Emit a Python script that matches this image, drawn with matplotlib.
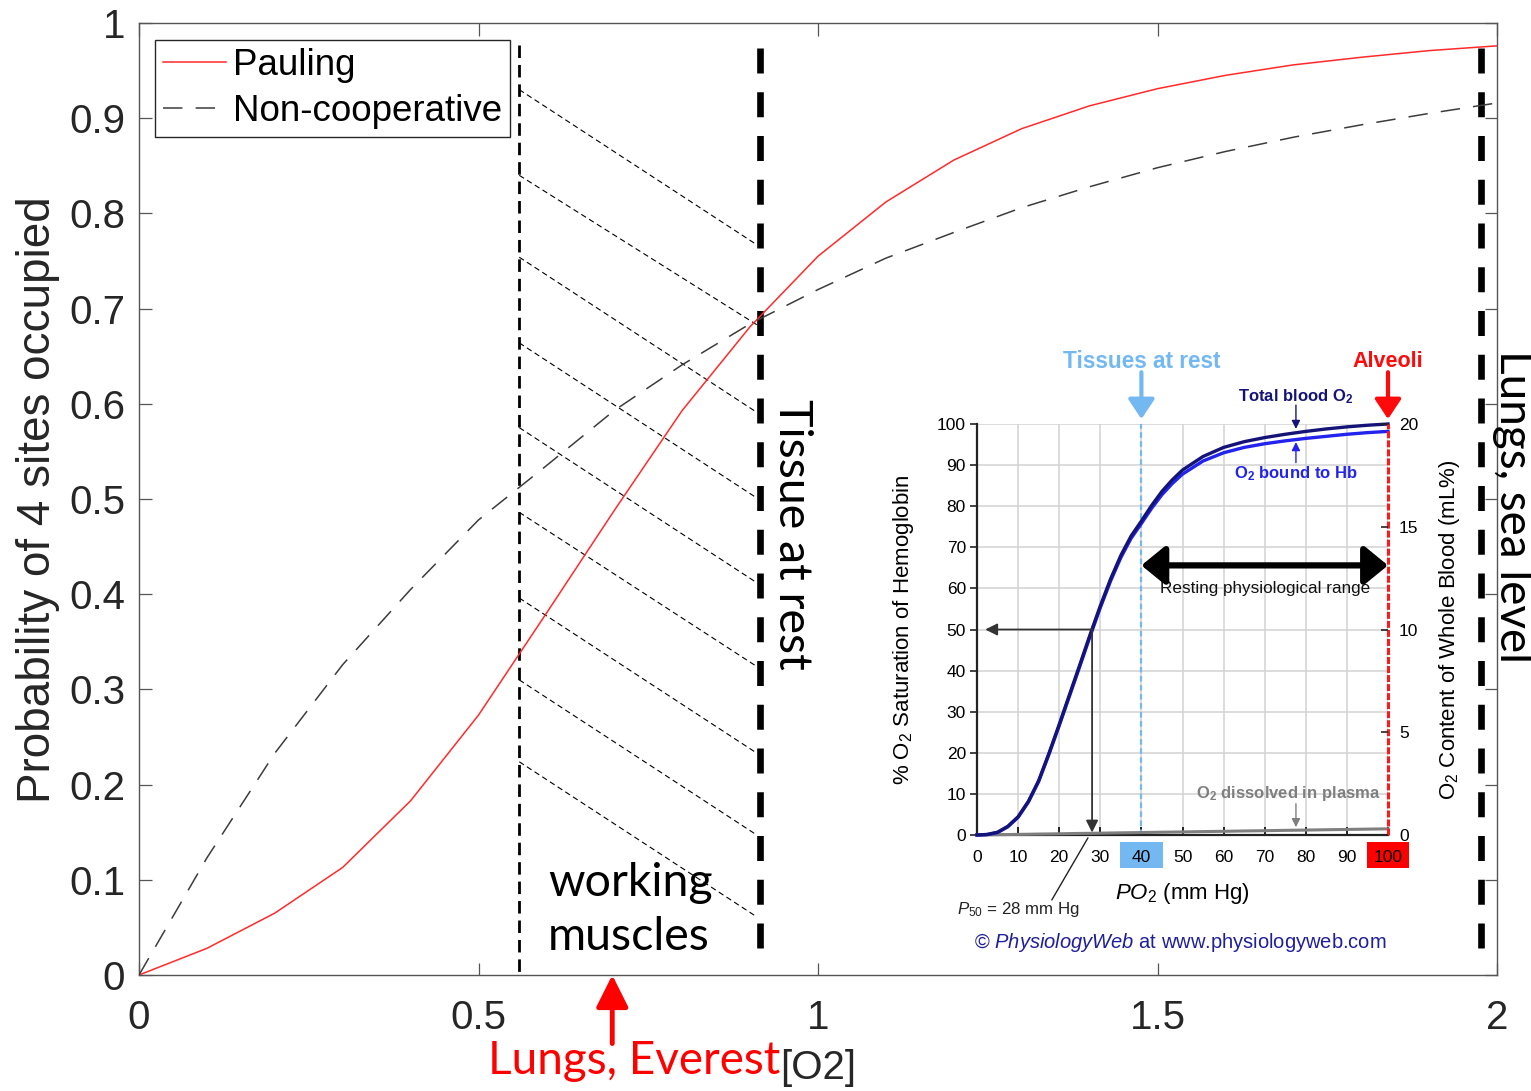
import matplotlib
matplotlib.use("Agg")
import matplotlib.pyplot as plt
from matplotlib.patches import Rectangle, FancyArrowPatch

plt.rcParams['font.family'] = ['Liberation Sans', 'DejaVu Sans']
plt.rcParams['mathtext.fontset'] = 'custom'
plt.rcParams['mathtext.rm'] = 'Liberation Sans'
plt.rcParams['mathtext.it'] = 'Liberation Sans:italic'
plt.rcParams['mathtext.bf'] = 'Liberation Sans:bold'
plt.rcParams['lines.scale_dashes'] = False

# ---------------- main chart data ----------------
o2 = [0.0, 0.1, 0.2, 0.3, 0.4, 0.5, 0.6, 0.7, 0.8, 0.9, 1.0,
      1.1, 1.2, 1.3, 1.4, 1.5, 1.6, 1.7, 1.8, 1.9, 2.0]
pauling = [0.0, 0.028, 0.065, 0.113, 0.183, 0.273, 0.380, 0.488, 0.593, 0.681, 0.755,
           0.812, 0.856, 0.889, 0.913, 0.931, 0.945, 0.956, 0.964, 0.971, 0.976]
noncoop = [0.0, 0.123, 0.233, 0.326, 0.405, 0.478, 0.535, 0.593, 0.641, 0.684, 0.720,
           0.753, 0.780, 0.806, 0.828, 0.848, 0.865, 0.880, 0.893, 0.905, 0.916]
series_labels = ["Pauling", "Non-cooperative"]

working_x = 0.56
tissue_x = 0.915
sealevel_x = 1.976
everest_x = 0.697

hatch_x = [0.56, 0.91]
hatch_y_start = [0.930, 0.840, 0.754, 0.664, 0.575, 0.486, 0.396, 0.310, 0.224]
hatch_y_end = [0.767, 0.683, 0.591, 0.501, 0.412, 0.324, 0.233, 0.147, 0.061]

x_ticks = [0, 0.5, 1, 1.5, 2]
x_tick_labels = ["0", "0.5", "1", "1.5", "2"]
y_ticks = [0, 0.1, 0.2, 0.3, 0.4, 0.5, 0.6, 0.7, 0.8, 0.9, 1.0]
y_tick_labels = ["0", "0.1", "0.2", "0.3", "0.4", "0.5", "0.6", "0.7", "0.8", "0.9", "1"]

# ---------------- inset data (PhysiologyWeb O2 dissociation curve) ----------------
po2 = [0, 2.5, 5, 7.5, 10, 12.5, 15, 17.5, 20, 22.5, 25, 27.5, 30, 32.5, 35, 37.5, 40,
       42.5, 45, 47.5, 50, 55, 60, 65, 70, 75, 80, 85, 90, 95, 100]
hb_sat = [0, 0.1, 0.6, 2.0, 4.3, 8.0, 13.0, 19.6, 26.6, 33.8, 41.0, 48.3, 55.3, 61.8, 67.5, 72.2, 75.8,
          79.5, 82.8, 85.5, 87.8, 91.0, 93.0, 94.3, 95.2, 95.9, 96.5, 97.0, 97.5, 97.9, 98.2]
total_o2 = [0, 0.14, 0.68, 2.11, 4.45, 8.19, 13.23, 19.86, 26.9, 34.14, 41.38, 48.71, 55.75, 62.29, 68.03,
            72.76, 76.4, 80.2, 83.6, 86.4, 88.8, 92.1, 94.3, 95.7, 96.7, 97.5, 98.2, 98.8, 99.3, 99.7, 100.0]
dissolved = [0, 0.04, 0.08, 0.11, 0.15, 0.19, 0.23, 0.26, 0.30, 0.34, 0.38, 0.41, 0.45, 0.49, 0.53,
             0.56, 0.60, 0.64, 0.68, 0.71, 0.75, 0.83, 0.90, 0.98, 1.05, 1.13, 1.20, 1.28, 1.35, 1.43, 1.50]
inset_x_ticks = [0, 10, 20, 30, 40, 50, 60, 70, 80, 90, 100]
inset_y_ticks = [0, 10, 20, 30, 40, 50, 60, 70, 80, 90, 100]
inset_y2_ticks = [0, 5, 10, 15, 20]
p50 = 28
tissue_po2 = 40
alveoli_po2 = 100

W, H = 1531, 1091
fig = plt.figure(figsize=(W / 100, H / 100), dpi=100)
fig.patch.set_facecolor('white')

ax = fig.add_axes([139 / W, 1 - 975 / H, (1497 - 139) / W, (975 - 23) / H])
ax.set_xlim(0, 2)
ax.set_ylim(0, 1)

dark = '#262626'
ax.plot(o2, pauling, color='#ff2a2a', lw=1.1, label=series_labels[0], zorder=3)
ax.plot(o2, noncoop, color='#3c3c3c', lw=1.1, dashes=(14, 9.5), label=series_labels[1], zorder=3)

# vertical markers
ax.plot([working_x, working_x], [0.977, 0.0], color='k', lw=2.0, dashes=(9, 5), zorder=2)
ax.plot([tissue_x, tissue_x], [0.974, 0.012], color='k', lw=4.8, dashes=(18, 13.5), zorder=2)
ax.plot([sealevel_x, sealevel_x], [0.974, 0.010], color='k', lw=4.8, dashes=(18, 13.5), zorder=2)

for ys, ye in zip(hatch_y_start, hatch_y_end):
    ax.plot(hatch_x, [ys, ye], color='k', lw=0.8, dashes=(4, 2.6), zorder=2)

ax.set_xticks(x_ticks, x_tick_labels)
ax.set_yticks(y_ticks, y_tick_labels)
ax.tick_params(direction='in', length=9, width=0.9, color='#555555', top=True, right=True,
               labelsize=29, labelcolor=dark)
ax.tick_params(axis='y', pad=10)
ax.tick_params(axis='x', pad=17)
for s in ax.spines.values():
    s.set_color('#555555')
    s.set_linewidth(1.0)

ax.set_ylabel("Probability of 4 sites occupied", fontsize=33, color=dark, va='center')
ax.yaxis.set_label_coords((38 - 139) / 1358, 0.499)
ax.set_xlabel("[O2]", fontsize=29, color=dark, va='center')
ax.xaxis.set_label_coords(0.5, (975 - 1068) / 952)

leg = ax.legend(loc='upper left', bbox_to_anchor=(155 / W, 1 - 40 / H), bbox_transform=fig.transFigure,
                borderaxespad=0, fancybox=False, edgecolor=dark, framealpha=1, fontsize=26.5,
                handlelength=1.7, handletextpad=0.2, borderpad=0.22, labelspacing=0.3)
leg.get_frame().set_linewidth(1.0)
for t in leg.get_texts():
    t.set_color('black')

calib = ['Lato', 'DejaVu Sans']
ax.text(tissue_x + 0.047, 0.463, "Tissue at rest", rotation=270, ha='center', va='center',
        fontsize=33.5, family=calib, color='black')
ax.text(sealevel_x + 0.047, 0.492, "Lungs, sea level", rotation=270, ha='center', va='center',
        fontsize=33, family=calib, color='black', clip_on=False)
ax.text(0.602, 0.068, "working\nmuscles", ha='left', va='center', fontsize=33.5, family=calib,
        color='black', linespacing=1.35)
ax.text(0.514, -0.09, "Lungs, Everest", ha='left', va='center', fontsize=33, family=calib,
        color='#ff0000', clip_on=False)
ax.add_patch(FancyArrowPatch((everest_x, -0.072), (everest_x, 0.0),
                             arrowstyle='-|>,head_length=0.7,head_width=0.35', mutation_scale=28,
                             color='#ff0000', lw=3.5, clip_on=False, shrinkA=0, shrinkB=0))

# ---------------- inset ----------------
ax2 = fig.add_axes([977 / W, 1 - 835 / H, 411 / W, 411 / H])
ax2.set_xlim(0, 100)
ax2.set_ylim(0, 100)
ax2.set_facecolor('white')
ax2.set_xticks(inset_x_ticks, [str(v) for v in inset_x_ticks])
ax2.set_yticks(inset_y_ticks, [str(v) for v in inset_y_ticks])
ax2.grid(True, color='#d2d2d2', lw=1.1)
ax2.set_axisbelow(True)
for side in ['top', 'right']:
    ax2.spines[side].set_visible(False)
for side in ['left', 'bottom']:
    ax2.spines[side].set_color('#222222')
    ax2.spines[side].set_linewidth(1.6)
ax2.tick_params(axis='x', direction='in', length=6, width=1.4, color='#222222', labelsize=12.5, pad=11)
ax2.tick_params(axis='y', direction='out', length=5, width=1.2, color='#222222', labelsize=12.5, pad=3)

ax2.plot(po2, dissolved, color='#7f7f7f', lw=2.2, zorder=3, clip_on=False)
ax2.plot(po2, hb_sat, color='#2323ee', lw=2.4, zorder=4, clip_on=False)
ax2.plot(po2, total_o2, color='#141478', lw=2.4, zorder=5, clip_on=False)

ax2.axvline(tissue_po2, color='#74b8f2', lw=1.6, dashes=(4, 2.5), zorder=2)
ax2.axvline(alveoli_po2, color='#ff1a1a', lw=2.2, dashes=(5, 1.5), zorder=6, clip_on=False)

ax3 = ax2.twinx()
ax3.set_ylim(0, 20)
ax3.set_yticks(inset_y2_ticks, [str(v) for v in inset_y2_ticks])
for s in ax3.spines.values():
    s.set_visible(False)
ax3.tick_params(axis='y', direction='in', length=5, width=1.2, color='#222222', labelsize=12.5, pad=8)

ax2.set_ylabel(r"% O$_2$ Saturation of Hemoglobin", fontsize=16, va='center')
ax2.yaxis.set_label_coords(-0.18, 0.5)
ax3.set_ylabel(r"O$_2$ Content of Whole Blood (mL%)", fontsize=16, va='center', rotation=90)
ax3.yaxis.set_label_coords(1.15, 0.5)
ax2.set_xlabel(r"$\mathit{PO}_2$ (mm Hg)", fontsize=16, va='center')
ax2.xaxis.set_label_coords(0.5, -0.142)

# highlighted tick labels
for tv, fc in [(tissue_po2, '#74b8f2'), (alveoli_po2, '#ff0000')]:
    ax2.add_patch(Rectangle((tv - 5.2, -8.0), 10.4, 6.3, facecolor=fc, edgecolor='none',
                            clip_on=False, zorder=0.5))

# annotations
ax2.text(tissue_po2, 115.3, "Tissues at rest", color='#74b8f2', fontsize=16.3, fontweight='bold',
         ha='center', va='center', clip_on=False)
ax2.text(alveoli_po2, 115.3, "Alveoli", color='#ff0a0a', fontsize=15.5, fontweight='bold',
         ha='center', va='center', clip_on=False)
for xv, col in [(tissue_po2, '#74b8f2'), (alveoli_po2, '#ff0a0a')]:
    ax2.add_patch(FancyArrowPatch((xv, 112.6), (xv, 101.2), arrowstyle='-|>,head_length=0.6,head_width=0.4',
                                  mutation_scale=20, color=col, lw=3, clip_on=False, shrinkA=0, shrinkB=0))

ax2.text(77.6, 106.7, r"Total blood O$_\mathbf{2}$", color='#141478', fontsize=12, fontweight='bold',
         ha='center', va='center', clip_on=False)
ax2.add_patch(FancyArrowPatch((77.6, 104.6), (77.6, 98.8), arrowstyle='-|>,head_length=0.5,head_width=0.25',
                              mutation_scale=10, color='#141478', lw=1, clip_on=False, shrinkA=0, shrinkB=0))
ax2.text(77.6, 88.0, r"O$_\mathbf{2}$ bound to Hb", color='#2323ee', fontsize=12, fontweight='bold',
         ha='center', va='center', clip_on=False)
ax2.add_patch(FancyArrowPatch((77.6, 90.6), (77.6, 95.6), arrowstyle='-|>,head_length=0.5,head_width=0.25',
                              mutation_scale=10, color='#2323ee', lw=1, clip_on=False, shrinkA=0, shrinkB=0))

ax2.add_patch(FancyArrowPatch((tissue_po2, 65.6), (alveoli_po2, 65.6),
                              arrowstyle='<|-|>,head_length=0.55,head_width=0.45', mutation_scale=26,
                              color='black', lw=4.5, clip_on=False, shrinkA=0, shrinkB=0, zorder=7))
ax2.text(70, 59.9, "Resting physiological range", fontsize=12.3, ha='center', va='center', color='#111111')

ax2.add_patch(FancyArrowPatch((p50, 50), (2, 50), arrowstyle='-|>,head_length=0.6,head_width=0.3',
                              mutation_scale=12, color='#333333', lw=1.3, shrinkA=0, shrinkB=0, zorder=7))
ax2.add_patch(FancyArrowPatch((p50, 50), (p50, 0.6), arrowstyle='-|>,head_length=0.6,head_width=0.3',
                              mutation_scale=12, color='#333333', lw=1.3, shrinkA=0, shrinkB=0, zorder=7))
ax2.annotate("", xy=(27.0, -0.7), xytext=(18.2, -15.8),
             arrowprops=dict(arrowstyle='-', color='#222222', lw=1.0, shrinkA=0, shrinkB=0),
             annotation_clip=False)
ax2.text(10, -18.2, r"$\mathit{P}_{50}$ = 28 mm Hg", fontsize=12.2, ha='center', va='center',
         color='#222222', clip_on=False)

ax2.text(75.8, 10.0, r"O$_\mathbf{2}$ dissolved in plasma", color='#7f7f7f', fontsize=12,
         fontweight='bold', ha='center', va='center')
ax2.add_patch(FancyArrowPatch((77.6, 7.6), (77.6, 1.9), arrowstyle='-|>,head_length=0.5,head_width=0.25',
                              mutation_scale=10, color='#7f7f7f', lw=1, shrinkA=0, shrinkB=0))

ax2.text(49.4, -26.2, r"© $\mathit{PhysiologyWeb}$ at www.physiologyweb.com", color='#1f1f9a',
         fontsize=14.5, ha='center', va='center', clip_on=False)

fig.savefig("out.png", dpi=100, facecolor='white')
